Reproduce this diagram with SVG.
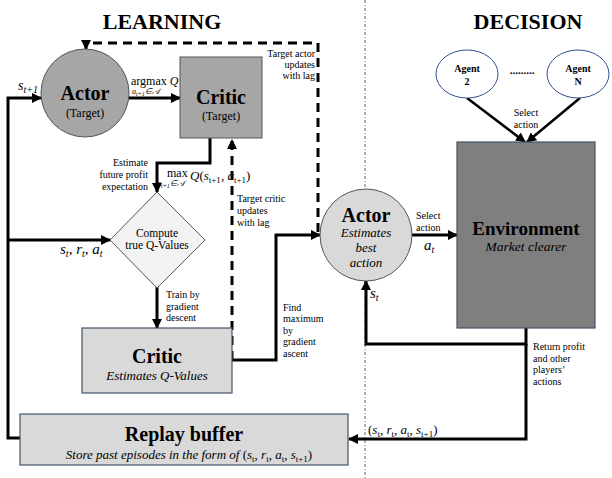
<svg xmlns="http://www.w3.org/2000/svg" width="612" height="478" viewBox="0 0 612 478">
<style>
text{font-family:"Liberation Serif","Times New Roman",serif;fill:#000}
.title{font-size:22px;font-weight:bold}
.big{font-size:20px;font-weight:bold}
.sub{font-size:12px}
.it{font-size:13px;font-style:italic}
.lbl{font-size:10px}
.math{font-style:italic}
.line{fill:none;stroke:#000;stroke-width:3}
.dash{fill:none;stroke:#000;stroke-width:3;stroke-dasharray:9,6}
.thin{fill:none;stroke:#000;stroke-width:2.5}
.blue{stroke:#44546a;stroke-width:1.2}
</style>
<defs>
<marker id="ah" viewBox="0 0 10 10" refX="9" refY="5" markerWidth="10" markerHeight="10" markerUnits="userSpaceOnUse" orient="auto"><path d="M0,0 L10,5 L0,10 z" fill="#000"/></marker>
</defs>

<text class="title" x="162" y="29" text-anchor="middle">LEARNING</text>
<text class="title" x="528" y="29" text-anchor="middle">DECISION</text>

<line x1="365" y1="0" x2="365" y2="478" stroke="#666" stroke-width="1" stroke-dasharray="3,2,1,2"/>

<g id="connectors">
<path class="line" d="M20,438 H8 V98 H41" marker-end="url(#ah)"/>
<path class="line" d="M8,240 H110" marker-end="url(#ah)"/>
<path class="line" d="M129,98 H180" marker-end="url(#ah)"/>
<path class="line" d="M210,138 V163 H157 V192" marker-end="url(#ah)"/>
<path class="line" d="M157,287 V328" marker-end="url(#ah)"/>
<path class="line" d="M232,360 H276 V235 H320" marker-end="url(#ah)"/>
<path class="line" d="M412,235 H457" marker-end="url(#ah)"/>
<path class="line" d="M526,328 V344 H366 V281" marker-end="url(#ah)"/>
<path class="line" d="M526,344 V439 H349" marker-end="url(#ah)"/>
<path class="thin" d="M467,98 L525,142" marker-end="url(#ah)"/>
<path class="thin" d="M580,98 L527,142" marker-end="url(#ah)"/>
<path class="dash" d="M232,360 V140" marker-end="url(#ah)"/>
<path class="dash" d="M318,232 V43 H86 V49" marker-end="url(#ah)"/>

<text class="sub" x="131" y="85">argmax <tspan class="math">Q</tspan></text>
<text x="132" y="94" style="font-size:8px" class="math">a<tspan dy="1.5" style="font-size:6px">t+1</tspan><tspan dy="-1.5">∈𝒜</tspan></text>
<text x="18" y="90" style="font-size:14px" class="math">s<tspan dy="3" style="font-size:10px">t+1</tspan></text>
<text x="60" y="254" style="font-size:15px" class="math">s<tspan dy="3" style="font-size:10px">t</tspan><tspan dy="-3">, r</tspan><tspan dy="3" style="font-size:10px">t</tspan><tspan dy="-3">, a</tspan><tspan dy="3" style="font-size:10px">t</tspan></text>
<text class="lbl" text-anchor="end"><tspan x="148" y="166">Estimate</tspan><tspan x="148" y="178">future profit</tspan><tspan x="148" y="190">expectation</tspan></text>
<text x="167" y="177" style="font-size:12px">max</text>
<text x="157" y="186" style="font-size:8px" class="math">a<tspan dy="1.5" style="font-size:6px">t+1</tspan><tspan dy="-1.5">∈𝒜</tspan></text>
<text x="190" y="180" style="font-size:13px"><tspan class="math">Q</tspan>(<tspan class="math">s</tspan><tspan dy="3" style="font-size:9px">t+1</tspan><tspan dy="-3">, </tspan><tspan class="math">a</tspan><tspan dy="3" style="font-size:9px">t+1</tspan><tspan dy="-3">)</tspan></text>
<text class="lbl" text-anchor="end"><tspan x="315" y="57">Target actor</tspan><tspan x="315" y="68">updates</tspan><tspan x="315" y="79">with lag</tspan></text>
<text class="lbl"><tspan x="237" y="202">Target critic</tspan><tspan x="237" y="214">updates</tspan><tspan x="237" y="226">with lag</tspan></text>
<text class="lbl"><tspan x="166" y="298">Train by</tspan><tspan x="166" y="310">gradient</tspan><tspan x="166" y="321">descent</tspan></text>
<text class="lbl"><tspan x="283" y="311">Find</tspan><tspan x="283" y="322">maximum</tspan><tspan x="283" y="334">by</tspan><tspan x="283" y="345">gradient</tspan><tspan x="283" y="357">ascent</tspan></text>
<text class="lbl"><tspan x="416" y="219">Select</tspan><tspan x="416" y="231">action</tspan></text>
<text x="424" y="250" style="font-size:15px" class="math">a<tspan dy="3" style="font-size:10px">t</tspan></text>
<text x="370" y="298" style="font-size:15px" class="math">s<tspan dy="3" style="font-size:10px">t</tspan></text>
<text class="lbl" text-anchor="middle"><tspan x="526" y="116">Select</tspan><tspan x="526" y="128">action</tspan></text>
<text class="lbl"><tspan x="533" y="350">Return profit</tspan><tspan x="533" y="362">and other</tspan><tspan x="533" y="373">players’</tspan><tspan x="533" y="385">actions</tspan></text>
<text x="368" y="434" style="font-size:13px">(<tspan class="math">s</tspan><tspan dy="3" style="font-size:9px">t</tspan><tspan dy="-3">, </tspan><tspan class="math">r</tspan><tspan dy="3" style="font-size:9px">t</tspan><tspan dy="-3">, </tspan><tspan class="math">a</tspan><tspan dy="3" style="font-size:9px">t</tspan><tspan dy="-3">, </tspan><tspan class="math">s</tspan><tspan dy="3" style="font-size:9px">t+1</tspan><tspan dy="-3">)</tspan></text>
</g>

<g id="actor-target">
<circle cx="85" cy="93" r="44" fill="#a6a6a6" stroke="#555" stroke-width="1"/>
<text class="big" x="85" y="100" text-anchor="middle">Actor</text>
<text class="sub" x="85" y="117" text-anchor="middle">(Target)</text>
</g>

<g id="critic-target">
<rect x="180" y="57" width="82" height="81" fill="#a6a6a6" stroke="#555" stroke-width="1"/>
<text class="big" x="221" y="104" text-anchor="middle">Critic</text>
<text class="sub" x="221" y="120" text-anchor="middle">(Target)</text>
</g>

<g id="compute">
<polygon points="157,192 205,240 157,288 110,240" fill="#f2f2f2" stroke="#555" stroke-width="1"/>
<text x="157" y="237" style="font-size:11.5px" text-anchor="middle">Compute</text>
<text x="157" y="249" style="font-size:11.5px" text-anchor="middle">true Q-Values</text>
</g>

<g id="critic">
<rect x="82" y="328" width="150" height="65" fill="#d9d9d9" class="blue"/>
<text class="big" x="157" y="363" text-anchor="middle">Critic</text>
<text class="it" x="157" y="380" text-anchor="middle">Estimates Q-Values</text>
</g>

<g id="actor">
<circle cx="366" cy="235" r="46" fill="#d9d9d9" stroke="#555" stroke-width="1"/>
<text class="big" x="366" y="222" text-anchor="middle">Actor</text>
<text class="it" x="366" y="237" text-anchor="middle">Estimates</text>
<text class="it" x="366" y="252" text-anchor="middle">best</text>
<text class="it" x="366" y="267" text-anchor="middle">action</text>
</g>

<g id="environment">
<rect x="457" y="142" width="138" height="186" fill="#7f7f7f" class="blue"/>
<text x="526" y="235" style="font-size:19px;font-weight:bold" text-anchor="middle">Environment</text>
<text x="526" y="251" style="font-size:13.5px;font-style:italic" text-anchor="middle">Market clearer</text>
</g>

<g id="agent-2">
<ellipse cx="467" cy="74" rx="31" ry="24" fill="#fff" stroke="#2f528f" stroke-width="1"/>
<text x="467" y="72" style="font-size:10px;font-weight:bold" text-anchor="middle">Agent</text>
<text x="467" y="85" style="font-size:10px;font-weight:bold" text-anchor="middle">2</text>
</g>
<g id="dots">
<text x="522" y="74" style="font-size:11px;font-weight:bold" text-anchor="middle">.........</text>
</g>
<g id="agent-n">
<ellipse cx="578" cy="74" rx="31" ry="24" fill="#fff" stroke="#2f528f" stroke-width="1"/>
<text x="578" y="72" style="font-size:10px;font-weight:bold" text-anchor="middle">Agent</text>
<text x="578" y="85" style="font-size:10px;font-weight:bold" text-anchor="middle">N</text>
</g>

<g id="replay-buffer">
<rect x="20" y="414" width="328" height="51" fill="#d9d9d9" class="blue"/>
<text class="big" x="184" y="441" text-anchor="middle">Replay buffer</text>
<text x="189" y="459" style="font-size:13px" text-anchor="middle"><tspan font-style="italic">Store past episodes in the form of </tspan>(<tspan class="math">s</tspan><tspan dy="3" style="font-size:9px">t</tspan><tspan dy="-3">, </tspan><tspan class="math">r</tspan><tspan dy="3" style="font-size:9px">t</tspan><tspan dy="-3">, </tspan><tspan class="math">a</tspan><tspan dy="3" style="font-size:9px">t</tspan><tspan dy="-3">, </tspan><tspan class="math">s</tspan><tspan dy="3" style="font-size:9px">t+1</tspan><tspan dy="-3">)</tspan></text>
</g>
</svg>
